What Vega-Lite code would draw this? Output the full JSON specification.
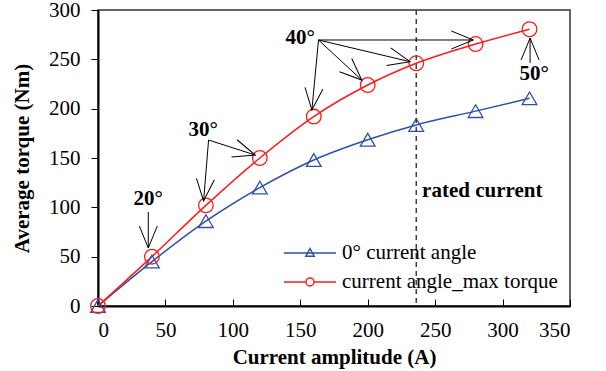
{
  "$schema": "https://vega.github.io/schema/vega-lite/v6.json",
  "width": 472,
  "height": 296,
  "autosize": {"type": "none"},
  "padding": {"left": 98, "top": 10, "right": 36, "bottom": 65},
  "background": "white",
  "config": {
    "font": "Liberation Serif, Times New Roman, DejaVu Serif, serif",
    "view": {"stroke": "#333333", "strokeWidth": 1.5},
    "axis": {
      "labelFont": "Liberation Serif, Times New Roman, DejaVu Serif, serif", "labelFontSize": 21, "labelColor": "black", "labelFontWeight": 400,
      "titleFont": "Liberation Serif, serif", "titleFontSize": 21, "titleFontWeight": "bold", "titleColor": "black",
      "domainColor": "black", "domainWidth": 2, "tickColor": "black", "tickWidth": 1, "grid": false
    },
    "legend": {"labelFont": "Liberation Serif, Times New Roman, DejaVu Serif, serif", "labelFontSize": 21, "labelColor": "black", "labelLimit": 400, "labelFontWeight": 400}
  },
  "datasets": {
    "curves": [
      {"current": 0, "torque": 0, "series": "0° current angle"},
      {"current": 40, "torque": 45, "series": "0° current angle"},
      {"current": 80, "torque": 86, "series": "0° current angle"},
      {"current": 120, "torque": 120, "series": "0° current angle"},
      {"current": 160, "torque": 148, "series": "0° current angle"},
      {"current": 200, "torque": 168.5, "series": "0° current angle"},
      {"current": 236, "torque": 183.5, "series": "0° current angle"},
      {"current": 280, "torque": 197.5, "series": "0° current angle"},
      {"current": 320, "torque": 210.5, "series": "0° current angle"},
      {"current": 0, "torque": 0, "series": "current angle_max torque"},
      {"current": 40, "torque": 50, "series": "current angle_max torque"},
      {"current": 80, "torque": 102, "series": "current angle_max torque"},
      {"current": 120, "torque": 150, "series": "current angle_max torque"},
      {"current": 160, "torque": 192, "series": "current angle_max torque"},
      {"current": 200, "torque": 224, "series": "current angle_max torque"},
      {"current": 236, "torque": 246, "series": "current angle_max torque"},
      {"current": 280, "torque": 265.5, "series": "current angle_max torque"},
      {"current": 320, "torque": 280.5, "series": "current angle_max torque"}
    ],
    "arrows": [
      {"x": 37.3, "y": 95.3, "x2": 37.3, "y2": 58.8, "dir": 90},
      {"x": 82, "y": 168.2, "x2": 78.3, "y2": 106.4, "dir": 94.7},
      {"x": 82, "y": 168.2, "x2": 116.6, "y2": 153, "dir": 17.8},
      {"x": 163.5, "y": 269.6, "x2": 158.6, "y2": 198.6, "dir": 95.4},
      {"x": 163.5, "y": 269.6, "x2": 195.6, "y2": 229, "dir": 42.7},
      {"x": 163.5, "y": 269.6, "x2": 231.4, "y2": 247.6, "dir": 13.3},
      {"x": 163.5, "y": 269.6, "x2": 278.3, "y2": 269.6, "dir": 0},
      {"x": 320.4, "y": 246.3, "x2": 320.4, "y2": 271.6, "dir": -90}
    ],
    "angles": [
      {"label": "20°", "x": 37.3, "y": 102.4},
      {"label": "30°", "x": 78, "y": 172.3},
      {"label": "40°", "x": 150, "y": 265.5},
      {"label": "50°", "x": 323.4, "y": 229}
    ],
    "rated": [
      {"label": "rated current", "x": 236, "tx": 240.3, "ty": 110.5}
    ]
  },
  "layer": [
    {
      "data": {"name": "curves"},
      "mark": {"type": "line", "interpolate": "monotone", "strokeWidth": 1.5},
      "encoding": {
        "x": {"field": "current", "type": "quantitative",
              "scale": {"domain": [0, 350], "nice": false},
              "axis": {"values": [0, 50, 100, 150, 200, 250, 300, 350], "tickSize": -7, "labelPadding": 20, "title": "Current amplitude (A)", "titlePadding": 6}},
        "y": {"field": "torque", "type": "quantitative",
              "scale": {"domain": [0, 300], "nice": false},
              "axis": {"values": [0, 50, 100, 150, 200, 250, 300], "tickSize": 7, "labelPadding": 11, "title": "Average torque (Nm)", "titlePadding": 16}},
        "color": {"field": "series", "type": "nominal",
                  "scale": {"domain": ["0° current angle", "current angle_max torque"], "range": ["#2f4fa8", "#ff1a1a"]},
                  "legend": {
                    "title": null, "orient": "none", "legendX": 201, "legendY": 232, "padding": 0,
                    "symbolSize": 400, "symbolStrokeWidth": 1.5, "labelOffset": 21, "rowPadding": 8,
                    "labelLimit": 400,
                    "encode": {"symbols": {"update": {
                      "shape": {"signal": "datum.value === '0° current angle' ? 'M-2.6,0L2.6,0M0,-0.45L-0.42,0.33L0.42,0.33Z' : 'M-2.6,0L-0.4,0M0.4,0L2.6,0M0.4,0A0.4,0.4 0 1,1 -0.4,0A0.4,0.4 0 1,1 0.4,0'"},
                      "fill": {"value": "transparent"},
                      "size": {"value": 400}
                    }}}
                  }}
      }
    },
    {
      "data": {"name": "curves"},
      "transform": [{"filter": "datum.series === '0° current angle'"}],
      "mark": {"type": "point", "shape": "triangle-up", "filled": false, "strokeWidth": 1.3, "size": 215, "opacity": 1},
      "encoding": {
        "x": {"field": "current", "type": "quantitative"},
        "y": {"field": "torque", "type": "quantitative"},
        "color": {"field": "series", "type": "nominal"}
      }
    },
    {
      "data": {"name": "curves"},
      "transform": [{"filter": "datum.series === 'current angle_max torque'"}],
      "mark": {"type": "point", "shape": "circle", "filled": false, "strokeWidth": 1.3, "size": 215, "opacity": 1},
      "encoding": {
        "x": {"field": "current", "type": "quantitative"},
        "y": {"field": "torque", "type": "quantitative"},
        "color": {"field": "series", "type": "nominal"}
      }
    },
    {
      "data": {"name": "rated"},
      "mark": {"type": "rule", "color": "#404040", "strokeWidth": 1.5, "strokeDash": [5, 4]},
      "encoding": {"x": {"field": "x", "type": "quantitative"}}
    },
    {
      "data": {"name": "rated"},
      "mark": {"type": "text", "align": "left", "baseline": "alphabetic", "fontSize": 21, "fontWeight": "bold", "font": "Liberation Serif, serif", "color": "black"},
      "encoding": {
        "x": {"field": "tx", "type": "quantitative"},
        "y": {"field": "ty", "type": "quantitative"},
        "text": {"field": "label"}
      }
    },
    {
      "data": {"name": "arrows"},
      "mark": {"type": "rule", "color": "black", "strokeWidth": 1},
      "encoding": {
        "x": {"field": "x", "type": "quantitative"},
        "y": {"field": "y", "type": "quantitative"},
        "x2": {"field": "x2"},
        "y2": {"field": "y2"}
      }
    },
    {
      "data": {"name": "arrows"},
      "mark": {"type": "point", "filled": false, "color": "black", "strokeWidth": 1, "size": 400,
               "shape": "M-2.2,-0.9L0,0L-2.2,0.9", "opacity": 1},
      "encoding": {
        "x": {"field": "x2", "type": "quantitative"},
        "y": {"field": "y2", "type": "quantitative"},
        "angle": {"field": "dir", "type": "quantitative", "scale": null}
      }
    },
    {
      "data": {"name": "angles"},
      "mark": {"type": "text", "align": "center", "baseline": "alphabetic", "fontSize": 21, "fontWeight": "bold", "font": "Liberation Serif, serif", "color": "black"},
      "encoding": {
        "x": {"field": "x", "type": "quantitative"},
        "y": {"field": "y", "type": "quantitative"},
        "text": {"field": "label"}
      }
    }
  ]
}
